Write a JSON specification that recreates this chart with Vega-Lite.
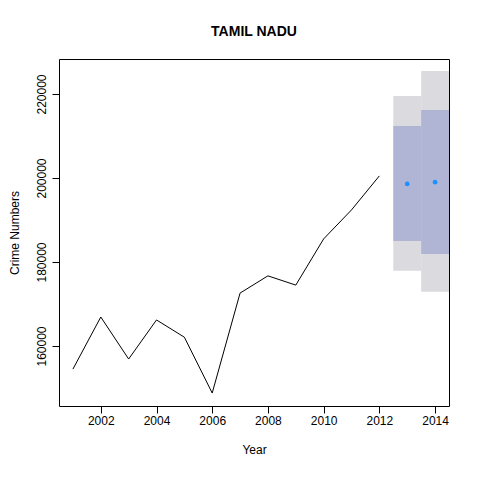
{
  "$schema": "https://vega.github.io/schema/vega-lite/v6.json",
  "width": 390,
  "height": 347,
  "autosize": {"type": "none"},
  "padding": {"left": 59, "top": 59, "right": 31, "bottom": 74},
  "title": {"text": "TAMIL NADU", "font": "Liberation Sans", "fontSize": 14, "fontWeight": "bold", "offset": 20, "anchor": "middle"},
  "config": {
    "view": {"stroke": "black", "strokeWidth": 1},
    "axis": {
      "labelFont": "Liberation Sans", "titleFont": "Liberation Sans",
      "labelFontSize": 12, "titleFontSize": 12, "titleFontWeight": "normal",
      "labelColor": "black", "titleColor": "black",
      "domain": false, "grid": false, "tickColor": "black", "tickSize": 7
    }
  },
  "datasets": {
    "hist": [
      {"year": 2001, "crimes": 154500}, {"year": 2002, "crimes": 166900},
      {"year": 2003, "crimes": 156900}, {"year": 2004, "crimes": 166200},
      {"year": 2005, "crimes": 162100}, {"year": 2006, "crimes": 148800},
      {"year": 2007, "crimes": 172600}, {"year": 2008, "crimes": 176700},
      {"year": 2009, "crimes": 174500}, {"year": 2010, "crimes": 185500},
      {"year": 2011, "crimes": 192400}, {"year": 2012, "crimes": 200500}
    ],
    "fc": [
      {"year": 2013, "start": 2012.5, "end": 2013.5, "mean": 198600, "lo80": 185000, "hi80": 212400, "lo95": 177900, "hi95": 219500},
      {"year": 2014, "start": 2013.5, "end": 2014.5, "mean": 199000, "lo80": 181900, "hi80": 216200, "lo95": 172900, "hi95": 225500}
    ]
  },
  "encoding": {
    "x": {"type": "quantitative", "scale": {"domain": [2000.5, 2014.5], "nice": false, "zero": false},
      "axis": {"title": "Year", "values": [2002, 2004, 2006, 2008, 2010, 2012, 2014], "format": "d", "titlePadding": 18}},
    "y": {"type": "quantitative", "scale": {"domain": [145714, 228333], "nice": false, "zero": false},
      "axis": {"title": "Crime Numbers", "values": [160000, 180000, 200000, 220000], "format": "d", "labelAngle": -90, "labelAlign": "center", "labelBaseline": "bottom", "labelPadding": 4, "titlePadding": 14}}
  },
  "layer": [
    {"data": {"name": "fc"}, "mark": {"type": "rect", "color": "#DBDBDF"},
      "encoding": {"x": {"field": "start"}, "x2": {"field": "end"}, "y": {"field": "lo95"}, "y2": {"field": "hi95"}}},
    {"data": {"name": "fc"}, "mark": {"type": "rect", "color": "#B1B5D5"},
      "encoding": {"x": {"field": "start"}, "x2": {"field": "end"}, "y": {"field": "lo80"}, "y2": {"field": "hi80"}}},
    {"data": {"name": "hist"}, "mark": {"type": "line", "color": "black", "strokeWidth": 1},
      "encoding": {"x": {"field": "year"}, "y": {"field": "crimes"}}},
    {"data": {"name": "fc"}, "mark": {"type": "circle", "color": "#1E90FF", "opacity": 1, "size": 22},
      "encoding": {"x": {"field": "year"}, "y": {"field": "mean"}}}
  ]
}
